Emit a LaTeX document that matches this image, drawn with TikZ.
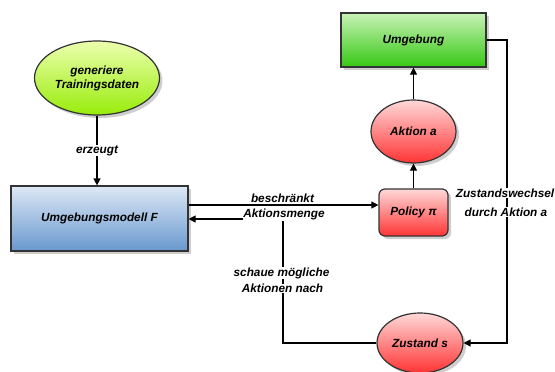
\documentclass[tikz,border=0pt]{standalone}
\usepackage{fontspec}
\setmainfont{Liberation Sans}
\usetikzlibrary{arrows.meta,shapes.geometric,shadows}

\definecolor{blueTop}{HTML}{DDE8F5}
\definecolor{blueBot}{HTML}{6898CE}
\definecolor{envTop}{HTML}{C8F2B6}
\definecolor{envBot}{HTML}{36C814}
\definecolor{limeTop}{HTML}{ECFFAE}
\definecolor{limeBot}{HTML}{98EC0A}
\definecolor{redTop}{HTML}{FFD8D8}
\definecolor{redBot}{HTML}{FF3434}

\begin{document}
\begin{tikzpicture}[x=1pt,y=-1pt,
  every node/.style={font=\fontsize{11.8}{15}\selectfont\bfseries\itshape},
  conn/.style={line width=1.2pt,draw=black},
  arr/.style={conn,-{Triangle[length=7pt,width=7pt]}},
  shadowed/.style={drop shadow={shadow xshift=3pt,shadow yshift=-3pt,fill=black!35,opacity=0.55}},
  block/.style={draw=black!80,line width=1.2pt,shadowed,align=center,inner sep=2pt},
  bluebox/.style={block,rectangle,top color=blueTop,bottom color=blueBot},
  greenbox/.style={block,rectangle,top color=envTop,bottom color=envBot},
  limeell/.style={block,ellipse,top color=limeTop,bottom color=limeBot},
  redell/.style={block,ellipse,top color=redTop,bottom color=redBot},
  redbox/.style={block,rectangle,rounded corners=6pt,top color=redTop,bottom color=redBot},
  lbl/.style={fill=white,inner sep=0.6pt},
  plainlbl/.style={inner sep=0.6pt},
  ]
  \useasboundingbox (0,0) rectangle (555,372);

  % nodes
  \node[limeell,minimum width=110pt,minimum height=74pt] (gen) at (97,78)
    {generiere\\[-1pt]Trainingsdaten};
  \node[bluebox,minimum width=177pt,minimum height=65pt] (umod) at (99.5,218.5)
    {Umgebungsmodell F};
  \node[greenbox,minimum width=145pt,minimum height=54pt] (env) at (413.5,40)
    {Umgebung};
  \node[redell,minimum width=85pt,minimum height=63pt] (aktion) at (413.5,131.5)
    {Aktion a};
  \node[redbox,minimum width=69pt,minimum height=47pt] (policy) at (413.5,212.5)
    {Policy π};
  \node[redell,minimum width=86pt,minimum height=60pt] (zustand) at (420,343)
    {Zustand s};

  % routing points
  \coordinate (fwd) at (0,205);
  \coordinate (back) at (283,219);
  \coordinate (rside) at (507,40);

  % connectors
  \draw[arr] (gen.south) -- node[lbl] {erzeugt} (gen.south |- umod.north);
  \draw[arr] (aktion) -- (env);
  \draw[arr] (policy) -- (aktion);
  \draw[arr] (umod.east |- fwd) -- (policy.west |- fwd);
  \draw[arr] (zustand.west) -| (back) -- (umod.east |- back);
  \draw[arr] (env.east) -- (rside) |- (zustand.east);

  % connector labels
  \node[plainlbl] (lb1) at (282.5,198) {beschränkt};
  \node[lbl] (lb2) at (284,214.5) {Aktionsmenge};
  \node[lbl] (lb3) at (281.5,273) {schaue mögliche};
  \node[lbl] (lb4) at (282.5,288.5) {Aktionen nach};
  \node[lbl] (lb5) at (505,193) {Zustandswechsel};
  \node[lbl] (lb6) at (506,212) {durch Aktion a};
\end{tikzpicture}
\end{document}
